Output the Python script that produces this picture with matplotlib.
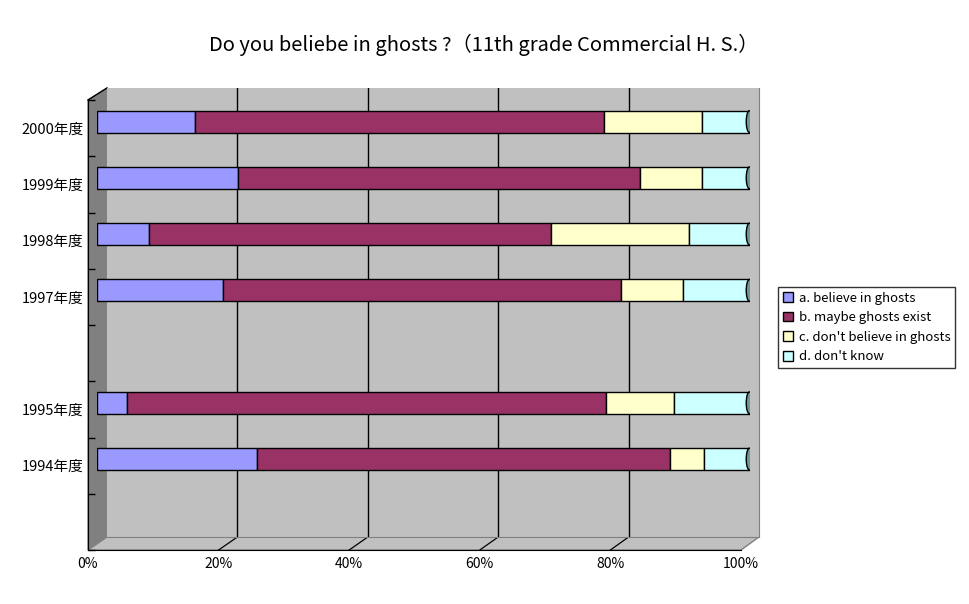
import matplotlib
matplotlib.use('Agg')
import matplotlib.pyplot as plt
from matplotlib.patches import Polygon, Ellipse
import numpy as np

plt.rcParams['font.family'] = ['Noto Sans CJK JP', 'DejaVu Sans']

# ---------------- data ----------------
categories = ['2000年度', '1999年度', '1998年度', '1997年度', '', '1995年度', '1994年度', '']
series_names = ['a. believe in ghosts', 'b. maybe ghosts exist',
                "c. don't believe in ghosts", "d. don't know"]
a_vals = [15.1, 21.6, 8.0, 19.4, np.nan, 4.7, 24.6, np.nan]
b_vals = [62.6, 61.7, 61.6, 60.9, np.nan, 73.4, 63.3, np.nan]
c_vals = [15.1, 9.4, 21.1, 9.5, np.nan, 10.3, 5.2, np.nan]
d_vals = [7.2, 7.3, 9.3, 10.2, np.nan, 11.6, 6.9, np.nan]
x_ticks = [0, 20, 40, 60, 80, 100]
x_tick_labels = ['0%', '20%', '40%', '60%', '80%', '100%']
title = 'Do you beliebe in ghosts ?（11th grade Commercial H. S.）'

colors = ['#9999FF', '#993366', '#FFFFCC', '#CCFFFF']
cap_color = '#6E9696'

W, H = 969, 604
fig = plt.figure(figsize=(W / 100, H / 100), dpi=100)
fig.patch.set_facecolor('white')


def px_axes(l, t, r, b, **kw):
    return fig.add_axes([l / W, 1 - b / H, (r - l) / W, (b - t) / H], **kw)


n = len(categories)
ylim = (n - 0.5, -0.5)

# ---------------- background (3D frame) ----------------
bg = fig.add_axes([0, 0, 1, 1])
bg.set_xlim(0, W)
bg.set_ylim(H, 0)
bg.axis('off')

FL, FR, FT, FB = 88, 741, 100, 550     # front plane
BL, BR, BT, BB = 107, 759, 88, 537     # back plane

bg.add_patch(Polygon([(FL, FT), (BL, BT), (BL, BB), (FL, FB)], closed=True,
                     facecolor='#808080', edgecolor='#808080', lw=1, zorder=1))
bg.add_patch(Polygon([(FL, FB), (BL, BB), (BR, BB), (FR, FB)], closed=True,
                     facecolor='#C0C0C0', edgecolor='#808080', lw=1, zorder=1))
bg.plot([FL, BL], [FT, BT], color='black', lw=1, zorder=3)

back_ax = px_axes(BL, BT, BR, BB)
back_ax.set_facecolor('#C0C0C0')
back_ax.set_xlim(0, 100)
back_ax.set_ylim(0, 1)
back_ax.set_xticks(x_ticks[1:-1])
back_ax.set_yticks([])
back_ax.tick_params(length=0, labelbottom=False)
back_ax.grid(axis='x', color='black', lw=1)
for s in back_ax.spines.values():
    s.set_color('#808080')
back_ax.spines['left'].set_visible(False)
back_ax.spines['top'].set_visible(False)

# floor diagonal grid lines
for p in x_ticks[1:-1]:
    xb = BL + (BR - BL) * p / 100
    xf = FL + (FR - FL) * p / 100
    bg.plot([xb, xf], [BB, FB], color='black', lw=0.9, zorder=2)

# ---------------- front axes (labels, ticks) ----------------
front = px_axes(FL, FT, FR, FB)
front.set_facecolor('none')
front.set_xlim(0, 100)
front.set_ylim(*ylim)
front.set_xticks(x_ticks)
front.set_xticklabels(x_tick_labels, fontsize=10)
front.set_yticks(range(n))
front.set_yticklabels(categories, fontsize=10.5)
front.set_yticks(np.arange(-0.5, n, 1), minor=True)
front.tick_params(axis='x', length=0, pad=5)
front.tick_params(axis='y', which='major', length=0, pad=3)
front.tick_params(axis='y', which='minor', length=5, direction='in', color='black', width=1)
front.spines['top'].set_visible(False)
front.spines['right'].set_visible(False)
front.spines['left'].set_color('black')
front.spines['bottom'].set_color('black')

# ---------------- bars (mid depth) ----------------
ax = px_axes(FL + 8.5, FT - 6.5, FR + 8.5, FB - 6.5)
ax.set_facecolor('none')
ax.set_xlim(0, 100)
ax.set_ylim(*ylim)
ax.axis('off')

ypos = np.arange(n)
left = np.zeros(n)
handles = []
bar_h = 0.39
for vals, col, name in zip([a_vals, b_vals, c_vals, d_vals], colors, series_names):
    v = np.array(vals, dtype=float)
    bars = ax.barh(ypos, v, left=left, height=bar_h, color=col,
                   edgecolor='black', linewidth=1, label=name, zorder=3)
    handles.append(bars)
    left = left + np.nan_to_num(v)

for i in range(n):
    if np.isnan(a_vals[i]):
        continue
    ax.add_patch(Ellipse((left[i], i), width=1.0, height=bar_h,
                         facecolor=cap_color, edgecolor='black', lw=1, zorder=4))

# ---------------- legend ----------------
leg = fig.legend(handles=handles, labels=series_names, loc='upper left',
                 bbox_to_anchor=(778 / W, 1 - 287 / H), fontsize=9.5,
                 frameon=True, fancybox=False, edgecolor='black',
                 handlelength=0.75, handleheight=0.75, handletextpad=0.5,
                 borderpad=0.35, labelspacing=0.5, borderaxespad=0)
leg.get_frame().set_linewidth(1)

# ---------------- title ----------------
fig.text(484 / W, 1 - 45 / H, title, ha='center', va='center', fontsize=14.5)

fig.savefig('out.png', dpi=100, facecolor='white')
